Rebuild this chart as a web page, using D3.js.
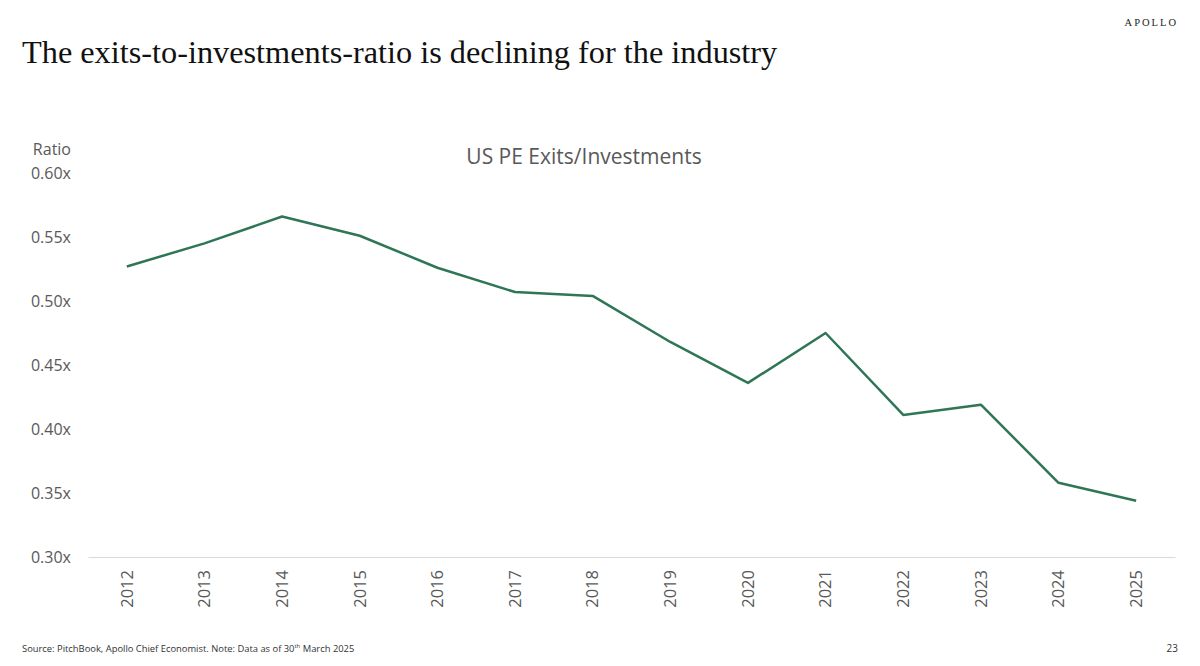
<!DOCTYPE html>
<html>
<head>
<meta charset="utf-8">
<script src="https://cdn.jsdelivr.net/npm/d3@7"></script>
<style>
  body { margin: 0; background: #fff; }
  svg { display: block; }
</style>
</head>
<body>
<svg id="chart"></svg>
<script>
// data
const years = ["2012", "2013", "2014", "2015", "2016", "2017", "2018",
               "2019", "2020", "2021", "2022", "2023", "2024", "2025"];
const ratio = [0.527, 0.545, 0.566, 0.551, 0.526, 0.507, 0.504,
               0.468, 0.436, 0.475, 0.411, 0.419, 0.358, 0.344];
const yTicks = [0.30, 0.35, 0.40, 0.45, 0.50, 0.55, 0.60];

const width = 1200;
const height = 666;
const margin = { top: 173, right: 25, bottom: 109, left: 88 };

const grey = "#595959";
const sans = "'Open Sans', 'Noto Sans', sans-serif";

const svg = d3.select("#chart")
  .attr("width", width)
  .attr("height", height)
  .attr("viewBox", [0, 0, width, height]);

const x = d3.scaleBand()
  .domain(years)
  .range([margin.left, width - margin.right]);

const y = d3.scaleLinear()
  .domain([0.30, 0.60])
  .range([height - margin.bottom, margin.top]);

// headline
svg.append("text")
  .attr("x", 22)
  .attr("y", 63)
  .attr("font-family", "'Liberation Serif', serif")
  .attr("font-size", 32.3)
  .attr("fill", "#111")
  .text("The exits-to-investments-ratio is declining for the industry");

svg.append("text")
  .attr("x", 1178)
  .attr("y", 26)
  .attr("text-anchor", "end")
  .attr("font-family", "'Liberation Serif', serif")
  .attr("font-size", 10.5)
  .attr("letter-spacing", 2)
  .attr("fill", "#222")
  .text("APOLLO");

// chart title
svg.append("text")
  .attr("x", 584)
  .attr("y", 164)
  .attr("text-anchor", "middle")
  .attr("font-family", sans)
  .attr("font-size", 21)
  .attr("fill", grey)
  .text("US PE Exits/Investments");

svg.append("text")
  .attr("x", 71)
  .attr("y", 155)
  .attr("text-anchor", "end")
  .attr("font-family", sans)
  .attr("font-size", 16)
  .attr("fill", grey)
  .text("Ratio");

// y axis: labels only
const yAxis = g => g
  .attr("transform", `translate(${margin.left - 17},0)`)
  .call(d3.axisLeft(y).tickValues(yTicks).tickSize(0).tickPadding(0)
    .tickFormat(d => d3.format(".2f")(d) + "x"))
  .call(g => g.select(".domain").remove())
  .call(g => g.selectAll("text")
    .attr("font-family", sans)
    .attr("font-size", 16)
    .attr("fill", grey));

svg.append("g").attr("class", "yaxis").call(yAxis);

// x axis with rotated year labels
const xAxis = g => g
  .attr("transform", `translate(0,${height - margin.bottom})`)
  .call(d3.axisBottom(x).tickSize(0).tickPadding(0))
  .call(g => g.select(".domain").attr("stroke", "#d9d9d9").attr("stroke-width", 1.2))
  .call(g => g.selectAll("text")
    .attr("font-family", sans)
    .attr("font-size", 16.5)
    .attr("fill", grey)
    .attr("text-anchor", "end")
    .attr("dy", "0.35em")
    .attr("transform", "translate(0,13) rotate(-90)"));

svg.append("g").attr("class", "xaxis").call(xAxis);

// line
const line = d3.line()
  .x((d, i) => x(years[i]) + x.bandwidth() / 2)
  .y(d => y(d));

svg.append("path")
  .datum(ratio)
  .attr("fill", "none")
  .attr("stroke", "#2e7655")
  .attr("stroke-width", 2.5)
  .attr("stroke-linejoin", "round")
  .attr("d", line);

// footer
const src = svg.append("text")
  .attr("x", 22)
  .attr("y", 652)
  .attr("font-family", sans)
  .attr("font-size", 9.4)
  .attr("fill", "#333");
src.append("tspan").text("Source: PitchBook, Apollo Chief Economist. Note: Data as of 30");
src.append("tspan").attr("font-size", 6).attr("dy", -4).text("th");
src.append("tspan").attr("dy", 4).text(" March 2025");

svg.append("text")
  .attr("x", 1178)
  .attr("y", 652)
  .attr("text-anchor", "end")
  .attr("font-family", sans)
  .attr("font-size", 10)
  .attr("fill", "#333")
  .text("23");
</script>
</body>
</html>
